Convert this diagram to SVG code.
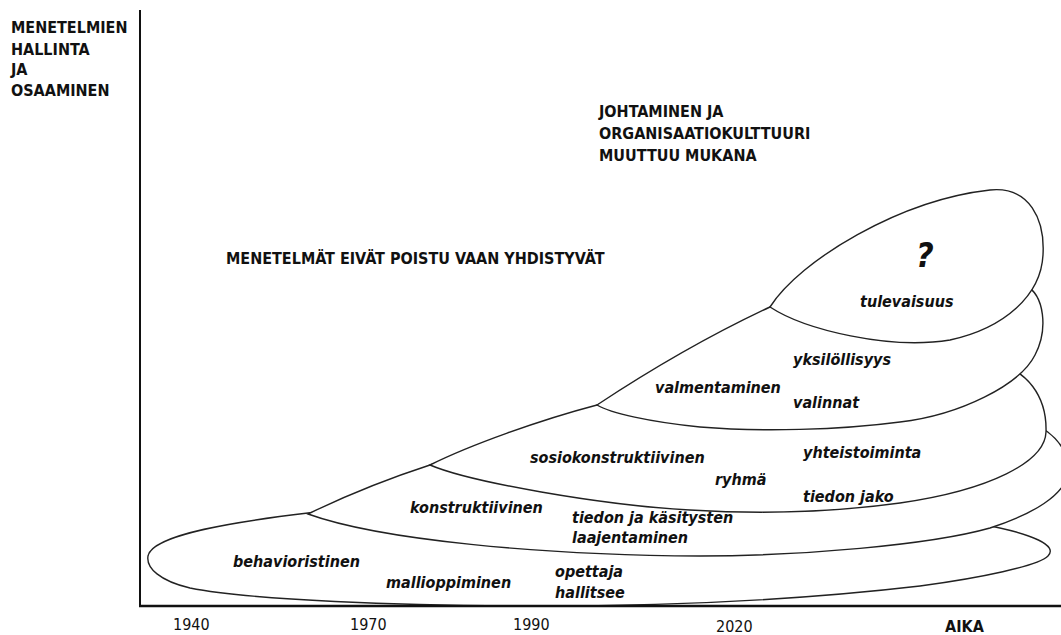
<svg xmlns="http://www.w3.org/2000/svg" width="1061" height="635" viewBox="0 0 1061 635">
  <style>
    .t { font-family: 'DejaVu Sans Condensed', 'DejaVu Sans', sans-serif; font-stretch: condensed; font-size: 16px; fill: #111; }
    .b { font-weight: bold; }
    .i { font-weight: bold; font-style: oblique; }
    .stage { fill: #fff; stroke: #222; stroke-width: 1.4; }
    .axis { stroke: #111; fill: none; }
  </style>
  <rect width="1061" height="635" fill="#fff"/>

  <!-- stages, oldest first; each later stage overlaps the previous one -->
  <g id="stage-behavioristinen">
    <path class="stage" d="M148,556 C152,534 240,521 308,513 C500,494 870,505 980,524 C1035,534 1058,546 1048,556 C1038,566 980,578 920,586 C800,600 660,606 540,606 C400,606 250,600 190,588 C160,581 146,568 148,556 Z"/>
    <text class="t i" x="233" y="566.5">behavioristinen</text>
    <text class="t i" x="386" y="587.5">mallioppiminen</text>
    <text class="t i" x="555" y="576.7">opettaja</text>
    <text class="t i" x="555" y="598">hallitsee</text>
  </g>
  <g id="stage-konstruktiivinen">
    <path class="stage" d="M308,514 C345,496 390,478 430,465 C560,425 880,398 990,412 C1040,418 1068,440 1068,470 C1068,495 1030,515 990,528 C930,545 800,556 700,556 C540,555 380,540 308,514 Z"/>
    <text class="t i" x="410" y="513">konstruktiivinen</text>
    <text class="t i" x="572" y="523">tiedon ja käsitysten</text>
    <text class="t i" x="572" y="543">laajentaminen</text>
  </g>
  <g id="stage-sosiokonstruktiivinen">
    <path class="stage" d="M430,465 C470,445 540,420 597,405 C720,372 900,355 985,362 C1030,366 1047,400 1046,432 C1045,462 990,490 900,503 C820,514 740,513 690,510 C600,505 470,482 430,465 Z"/>
    <text class="t i" x="530" y="463.3">sosiokonstruktiivinen</text>
    <text class="t i" x="715" y="485">ryhmä</text>
    <text class="t i" x="803" y="458.3">yhteistoiminta</text>
    <text class="t i" x="803" y="501.7">tiedon jako</text>
  </g>
  <g id="stage-valmentaminen">
    <path class="stage" d="M597,405 C650,370 710,335 770,307 C850,270 980,265 1025,285 C1045,295 1048,330 1035,355 C1020,385 960,415 900,422 C840,430 760,432 700,427 C650,422 610,413 597,405 Z"/>
    <text class="t i" x="655" y="393.3">valmentaminen</text>
    <text class="t i" x="793" y="365">yksilöllisyys</text>
    <text class="t i" x="793" y="407.7">valinnat</text>
  </g>
  <g id="stage-tulevaisuus">
    <path class="stage" d="M770,307 C800,260 900,200 990,190 C1030,186 1045,220 1043,255 C1041,295 1005,328 950,340 C890,350 805,330 770,307 Z"/>
    <text class="t i" x="916" y="267" style="font-size:34px">?</text>
    <text class="t i" x="860" y="306.7">tulevaisuus</text>
  </g>

  <!-- axes -->
  <g id="axes">
    <line class="axis" x1="140" y1="10" x2="140" y2="607" stroke-width="2"/>
    <line class="axis" x1="139" y1="606" x2="1061" y2="606" stroke-width="2.6"/>
  </g>

  <g id="labels">
    <text class="t b" x="11" y="33.3">MENETELMIEN</text>
    <text class="t b" x="11" y="54.5">HALLINTA</text>
    <text class="t b" x="11" y="75">JA</text>
    <text class="t b" x="11" y="95.7">OSAAMINEN</text>
    <text class="t b" x="599" y="117.3">JOHTAMINEN JA</text>
    <text class="t b" x="599" y="139.3">ORGANISAATIOKULTTUURI</text>
    <text class="t b" x="599" y="160.7">MUUTTUU MUKANA</text>
    <text class="t b" x="226" y="264">MENETELMÄT EIVÄT POISTU VAAN YHDISTYVÄT</text>
    <text class="t" x="173" y="630">1940</text>
    <text class="t" x="350" y="630">1970</text>
    <text class="t" x="513" y="630">1990</text>
    <text class="t" x="716" y="632">2020</text>
    <text class="t b" x="945" y="632">AIKA</text>
  </g>
</svg>
